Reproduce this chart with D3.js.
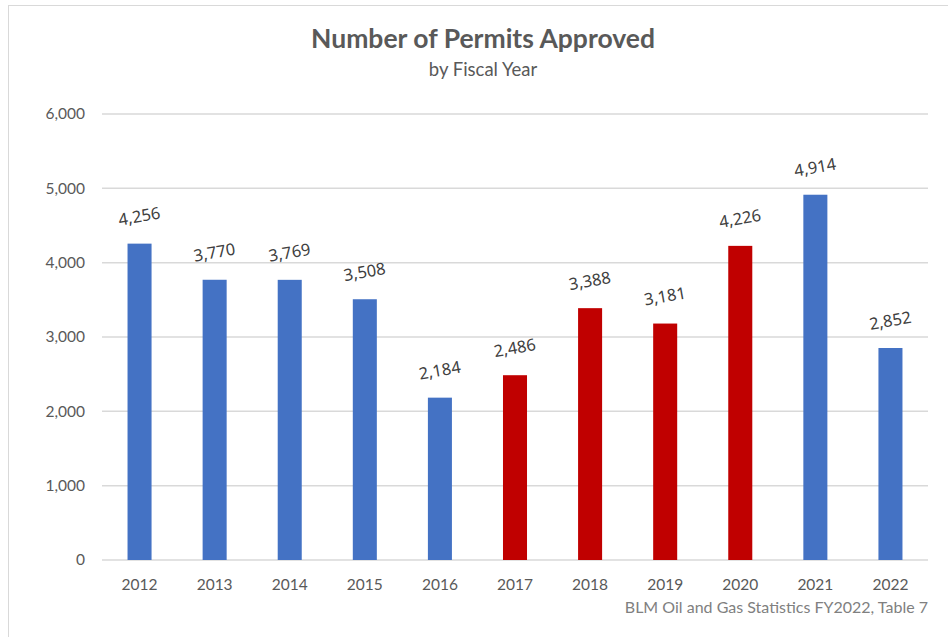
<!DOCTYPE html>
<meta charset="utf-8">
<style>
body { margin: 0; background: #fff; }
.tick text { font-family: Lato, sans-serif; font-size: 15.5px; fill: #595959; }
.grid line { stroke: #d9d9d9; }
.valueLabel { font-family: "Noto Sans", sans-serif; font-size: 16.5px; fill: #404040; }
</style>
<svg width="948" height="637"></svg>
<script src="https://cdn.jsdelivr.net/npm/d3@7"></script>
<script>

const years = ["2012", "2013", "2014", "2015", "2016", "2017", "2018", "2019", "2020", "2021", "2022"];
const permits = [4256, 3770, 3769, 3508, 2184, 2486, 3388, 3181, 4226, 4914, 2852];
const highlighted = ["2017", "2018", "2019", "2020"];
const yTicks = [0, 1000, 2000, 3000, 4000, 5000, 6000];

const svg = d3.select("svg");

//chart frame
svg.append("rect")
    .attr("x", 8.5).attr("y", 5.5)
    .attr("width", 960).attr("height", 660)
    .attr("fill", "none")
    .attr("stroke", "#d9d9d9");

const margin = {left: 102, right: 20, top: 114, bottom: 77};
const width = 948 - margin.left - margin.right,
    height = 637 - margin.top - margin.bottom;

const g = svg.append("g")
    .attr("transform", `translate(${margin.left},${margin.top})`);

const x = d3.scaleBand()
    .domain(years)
    .range([0, width])
    .paddingInner(0.68)
    .paddingOuter(0.34);

const y = d3.scaleLinear()
    .domain([0, 6000])
    .range([height, 0]);

//gridlines
g.append("g")
    .attr("class", "grid")
    .selectAll("line")
    .data(yTicks)
    .enter().append("line")
    .attr("x1", 0).attr("x2", width)
    .attr("y1", d => y(d)).attr("y2", d => y(d))
    .attr("stroke-width", 1.5);

//y axis labels
const yAxis = g.append("g")
    .call(d3.axisLeft(y).tickValues(yTicks).tickFormat(d3.format(",")).tickSize(0).tickPadding(17));
yAxis.select(".domain").remove();

//x axis labels
const xAxis = g.append("g")
    .attr("transform", `translate(0,${height})`)
    .call(d3.axisBottom(x).tickSize(0).tickPadding(19));
xAxis.select(".domain").remove();

//bars
const data = years.map((d, i) => ({year: d, value: permits[i]}));

g.selectAll(".bar")
    .data(data)
    .enter().append("rect")
    .attr("class", "bar")
    .attr("x", d => x(d.year))
    .attr("y", d => y(d.value))
    .attr("width", x.bandwidth())
    .attr("height", d => height - y(d.value))
    .attr("fill", d => highlighted.includes(d.year) ? "#c00000" : "#4472c4");

//value labels, tilted a bit like the original
g.selectAll(".valueLabel")
    .data(data)
    .enter().append("text")
    .attr("class", "valueLabel")
    .attr("text-anchor", "middle")
    .attr("dominant-baseline", "middle")
    .attr("transform", d => `translate(${x(d.year) + x.bandwidth() / 2},${y(d.value) - 26}) rotate(-10)`)
    .text(d => d3.format(",")(d.value));

//titles
svg.append("text")
    .attr("x", 483).attr("y", 48)
    .attr("text-anchor", "middle")
    .attr("font-family", "Lato, sans-serif")
    .attr("font-weight", "bold")
    .attr("font-size", 26.5)
    .attr("fill", "#595959")
    .text("Number of Permits Approved");

svg.append("text")
    .attr("x", 483).attr("y", 76)
    .attr("text-anchor", "middle")
    .attr("font-family", "Lato, sans-serif")
    .attr("font-size", 18.5)
    .attr("fill", "#595959")
    .text("by Fiscal Year");

svg.append("text")
    .attr("x", 928).attr("y", 613)
    .attr("text-anchor", "end")
    .attr("font-family", "Lato, sans-serif")
    .attr("font-size", 16)
    .attr("fill", "#808080")
    .text("BLM Oil and Gas Statistics FY2022, Table 7");

</script>
